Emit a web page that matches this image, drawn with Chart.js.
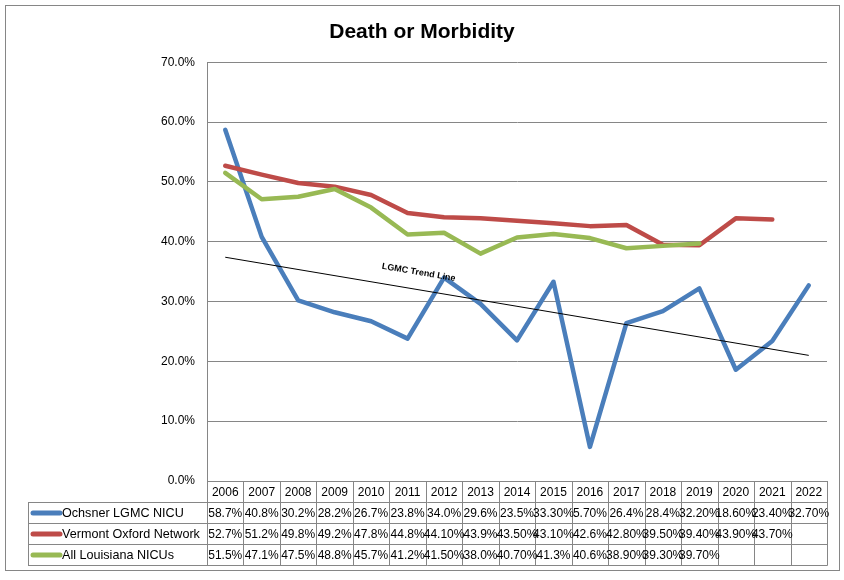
<!DOCTYPE html>
<html><head><meta charset="utf-8">
<script src="https://cdn.jsdelivr.net/npm/chart.js@4/dist/chart.umd.min.js"></script>
<style>html,body{margin:0;padding:0;background:#fff}#wrap{width:844px;height:580px;position:relative}</style>
</head><body><div id="wrap"><canvas id="c" width="844" height="580"></canvas></div>
<script>
const chartTitle = 'Death or Morbidity';
const years = ['2006','2007','2008','2009','2010','2011','2012','2013','2014','2015','2016','2017','2018','2019','2020','2021','2022'];
const ochsner = ['58.7','40.8','30.2','28.2','26.7','23.8','34.0','29.6','23.5','33.30','5.70','26.4','28.4','32.20','18.60','23.40','32.70'];
const vermont = ['52.7','51.2','49.8','49.2','47.8','44.8','44.10','43.9','43.50','43.10','42.6','42.80','39.50','39.40','43.90','43.70',null];
const louisiana = ['51.5','47.1','47.5','48.8','45.7','41.2','41.50','38.0','40.70','41.3','40.6','38.90','39.30','39.70',null,null,null];
const seriesNames = ['Ochsner LGMC NICU','Vermont Oxford Network','All Louisiana NICUs'];
const seriesColors = ['#4A7EBB','#BE4B48','#98B954'];
const trendStart = 37.4;
const trendEnd = 21.0;
const trendLabel = 'LGMC Trend Line';
const yMin = 0, yMax = 70, yStep = 10;

const seriesText = [ochsner, vermont, louisiana];
const toNum = a => a.map(v => v === null ? null : parseFloat(v));
const trendData = years.map((_, i) => i === 0 ? trendStart : (i === years.length - 1 ? trendEnd : null));

const FONT = "'Liberation Sans', Arial, sans-serif";
const GRID = '#868686';

const tablePlugin = {
  id: 'tablePlugin',
  afterDraw(chart) {
    const { ctx, chartArea: ca, scales: { x } } = chart;
    const n = years.length;
    const colW = (ca.right - ca.left) / n;
    const top = Math.round(ca.bottom);
    const rowH = 21;
    const legendLeft = 28;
    const right = Math.round(ca.right);
    ctx.save();
    ctx.strokeStyle = GRID;
    ctx.lineWidth = 1;
    ctx.beginPath();
    ctx.moveTo(ca.left, top + 0.5); ctx.lineTo(right, top + 0.5);
    for (let r = 1; r <= 4; r++) {
      const yy = top + r * rowH + 0.5;
      ctx.moveTo(legendLeft, yy); ctx.lineTo(right + 0.5, yy);
    }
    for (let k = 0; k <= n; k++) {
      const xx = Math.round(ca.left + k * colW) + 0.5;
      ctx.moveTo(xx, top); ctx.lineTo(xx, top + 4 * rowH + 0.5);
    }
    ctx.moveTo(legendLeft + 0.5, top + rowH); ctx.lineTo(legendLeft + 0.5, top + 4 * rowH + 0.5);
    ctx.stroke();

    ctx.fillStyle = '#000';
    ctx.font = '12px ' + FONT;
    ctx.textBaseline = 'middle';
    ctx.textAlign = 'center';
    years.forEach((yr, i) => {
      ctx.fillText(yr, x.getPixelForValue(i), top + rowH / 2 + 1);
    });
    seriesText.forEach((arr, s) => {
      const cy = top + (s + 1) * rowH + rowH / 2 + 1;
      arr.forEach((v, i) => {
        if (v !== null) ctx.fillText(v + '%', x.getPixelForValue(i), cy);
      });
    });
    ctx.textAlign = 'left';
    ctx.font = '12.6px ' + FONT;
    seriesNames.forEach((nm, s) => {
      const cy = top + (s + 1) * rowH + rowH / 2 + 0.5;
      ctx.strokeStyle = seriesColors[s];
      ctx.lineWidth = 5;
      ctx.lineCap = 'round';
      ctx.beginPath(); ctx.moveTo(33, cy); ctx.lineTo(60, cy); ctx.stroke();
      ctx.fillStyle = '#000';
      ctx.fillText(nm, 62, cy + 0.5);
    });
    ctx.strokeStyle = GRID;
    ctx.lineWidth = 1;
    ctx.strokeRect(5.5, 5.5, 834, 565);
    ctx.restore();
  }
};

const trendLabelPlugin = {
  id: 'trendLabelPlugin',
  afterDatasetsDraw(chart) {
    const { ctx, scales: { x, y } } = chart;
    const x0 = x.getPixelForValue(0), y0 = y.getPixelForValue(trendStart);
    const x1 = x.getPixelForValue(years.length - 1), y1 = y.getPixelForValue(trendEnd);
    const ang = Math.atan2(y1 - y0, x1 - x0);
    const t = 0.33;
    const px = x0 + (x1 - x0) * t, py = y0 + (y1 - y0) * t;
    ctx.save();
    ctx.translate(px, py);
    ctx.rotate(ang);
    ctx.font = 'bold 9px ' + FONT;
    ctx.fillStyle = '#000';
    ctx.textAlign = 'center';
    ctx.textBaseline = 'middle';
    ctx.fillText(trendLabel, -2, -17);
    ctx.restore();
  }
};

const lineDs = (label, arr, color, order) => ({
  label, data: toNum(arr), borderColor: color, backgroundColor: color,
  borderWidth: 4.5, pointRadius: 0, tension: 0, fill: false,
  borderCapStyle: 'round', borderJoinStyle: 'round', spanGaps: false, order
});

new Chart(document.getElementById('c'), {
  type: 'line',
  data: {
    labels: years,
    datasets: [
      lineDs(seriesNames[0], ochsner, seriesColors[0], 3),
      lineDs(seriesNames[1], vermont, seriesColors[1], 2),
      lineDs(seriesNames[2], louisiana, seriesColors[2], 1),
      { label: 'Trend', data: trendData, borderColor: '#000', borderWidth: 1, pointRadius: 0,
        spanGaps: true, fill: false, tension: 0, order: 0 }
    ]
  },
  options: {
    responsive: false,
    animation: false,
    events: [],
    layout: { padding: { left: 17, right: 17, top: 0, bottom: 99 } },
    plugins: {
      legend: { display: false },
      tooltip: { enabled: false },
      title: {
        display: true, text: chartTitle, color: '#000',
        font: { family: FONT, size: 21, weight: 'bold' },
        padding: { top: 20, bottom: 17 }
      }
    },
    scales: {
      x: { type: 'category', display: false, offset: true },
      y: {
        min: yMin, max: yMax,
        ticks: { stepSize: yStep, color: '#000', padding: 12,
          font: { family: FONT, size: 12 },
          callback: v => Number(v).toFixed(1) + '%' },
        grid: { color: GRID, drawTicks: false, lineWidth: 1 },
        border: { color: GRID, width: 1 },
        afterFit(s) { s.width = 190; }
      }
    }
  },
  plugins: [tablePlugin, trendLabelPlugin]
});
</script>
</body></html>
